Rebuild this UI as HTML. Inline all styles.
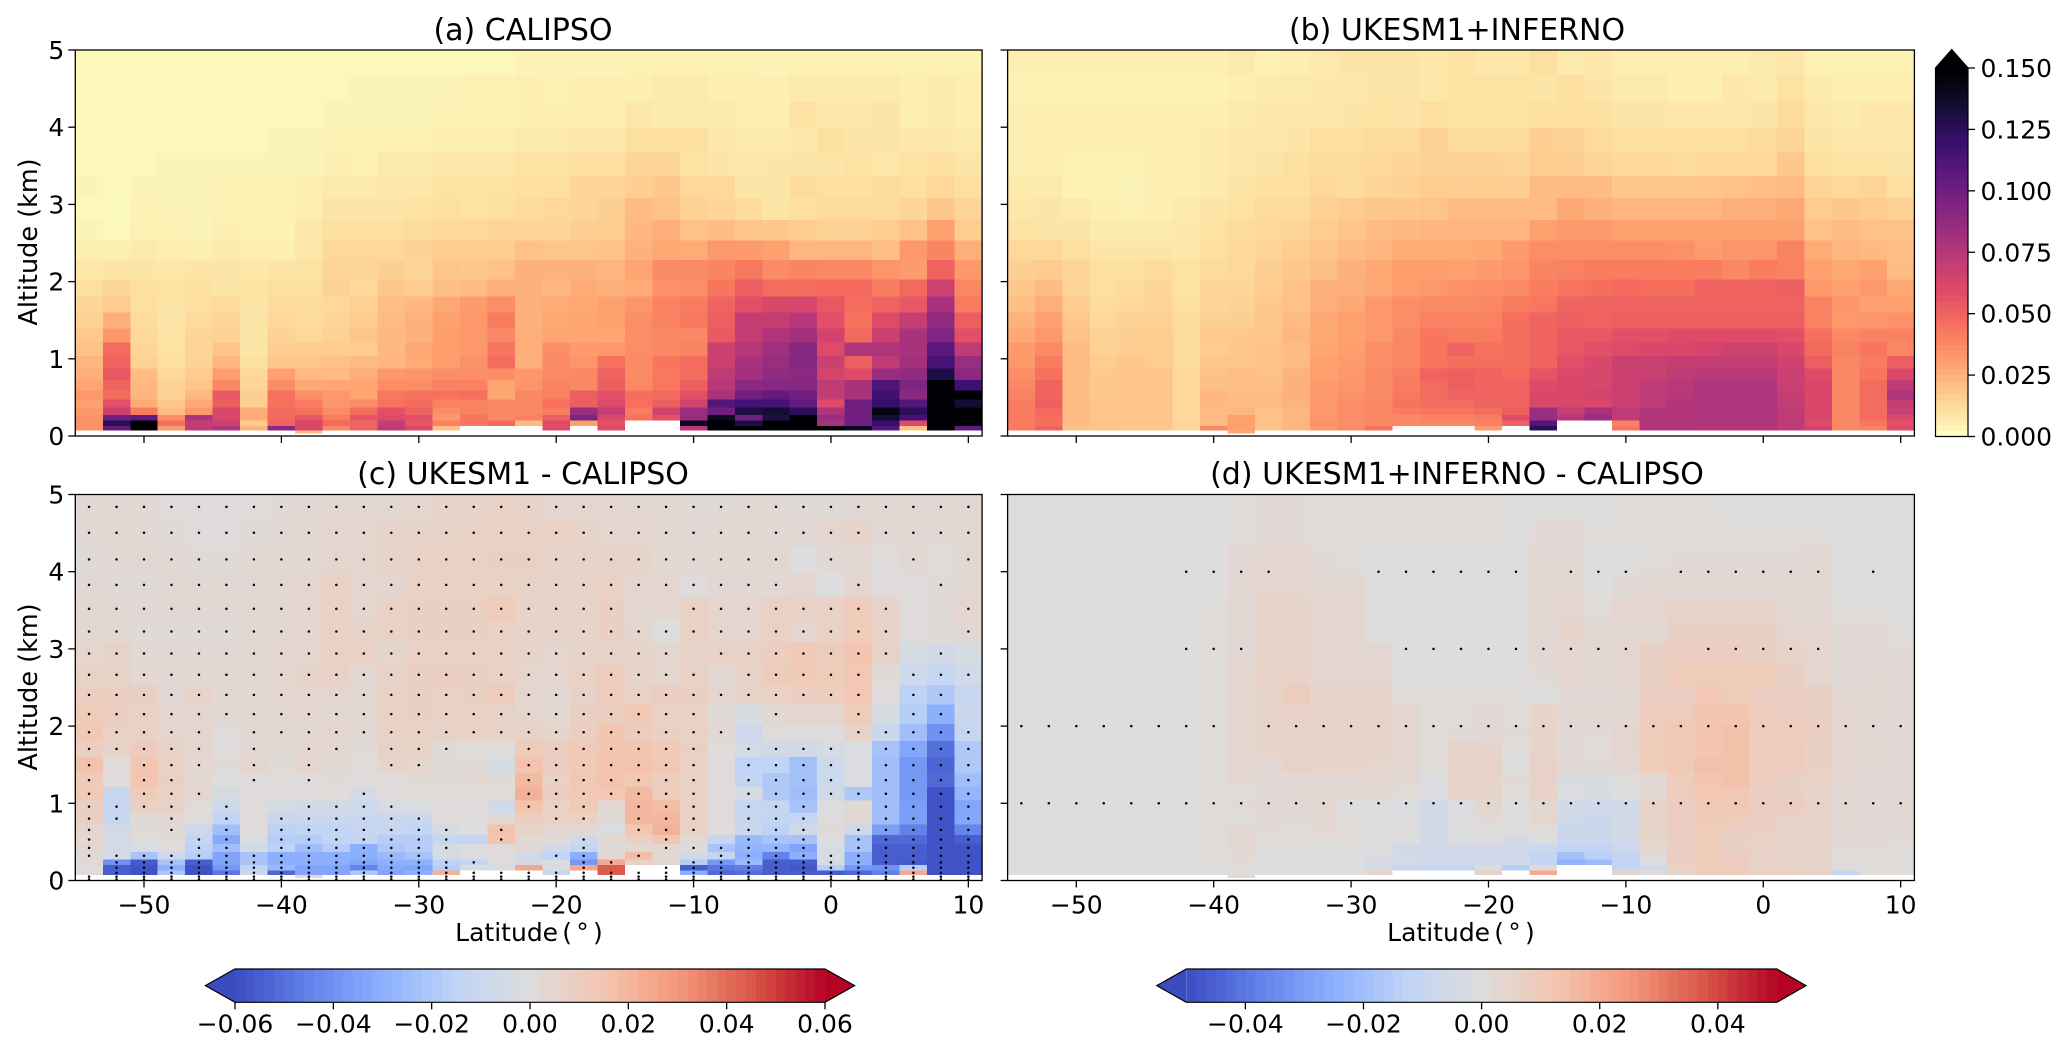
<!DOCTYPE html>
<html lang="en">
<head>
<meta charset="utf-8">
<title>CALIPSO and UKESM1 extinction by latitude and altitude</title>
<style>
html,body{margin:0;padding:0;background:#fff;width:2067px;height:1050px;overflow:hidden}
svg{display:block}
text{font-family:"DejaVu Sans","Liberation Sans",sans-serif;fill:#000}
.title{font-size:30px;text-anchor:middle}
.xlabel{font-size:25px;text-anchor:middle;word-spacing:-3.7px}
.ylabel{font-size:25.5px;text-anchor:middle}
.tick{font-size:25px}
</style>
</head>
<body>
<svg id="figure" xmlns="http://www.w3.org/2000/svg" width="2067" height="1050" viewBox="0 0 2067 1050">
  <g id="layer-marks"></g>
  <text class="title" x="523" y="40">(a) CALIPSO</text>
  <text class="title" x="1457" y="40">(b) UKESM1+INFERNO</text>
  <text class="title" x="523" y="484">(c) UKESM1 - CALIPSO</text>
  <text class="title" x="1457" y="484">(d) UKESM1+INFERNO - CALIPSO</text>
  <text class="ylabel" transform="translate(37,242) rotate(-90)">Altitude (km)</text>
  <text class="ylabel" transform="translate(37,687) rotate(-90)">Altitude (km)</text>
  <text class="xlabel" x="529" y="941">Latitude ( ° )</text>
  <text class="xlabel" x="1461" y="941">Latitude ( ° )</text>
</svg>
<script>
const _ = null;
/* Grid: latitude cell centres and altitude cell edges (km), bottom to top. */
const latitudes = [-54,-52,-50,-48,-46,-44,-42,-40,-38,-36,-34,-32,-30,-28,-26,-24,-22,-20,-18,-16,-14,-12,-10,-8,-6,-4,-2,0,2,4,6,8,10];
const altitudeEdges = [0,0.03,0.07,0.13,0.2,0.27,0.37,0.475,0.587,0.725,0.877,1.036,1.21,1.39,1.6,1.81,2.03,2.28,2.53,2.8,3.08,3.37,3.67,3.99,4.33,4.68,5];
const latTicks = [-50,-40,-30,-20,-10,0,10];
const altTicks = [0,1,2,3,4,5];
const cbarTicksMain = [0,0.025,0.05,0.075,0.1,0.125,0.15];
const cbarTicksC = [-0.06,-0.04,-0.02,0,0.02,0.04,0.06];
const cbarTicksD = [-0.04,-0.02,0,0.02,0.04];

/* Values in units of 0.001, rows listed from top altitude cell down to the lowest. */
const valuesA = [
[3,3,3,3,3,3,3,3,3,3,3, 3,3,3,3,3,4,4,4,4,5,5, 5,5,5,4,5,5,5,5,5,5,5],
[3,3,3,3,3,3,3,3,3,3,4, 4,4,4,5,5,6,5,6,6,6,7, 7,6,6,6,7,7,7,7,6,7,6],
[3,3,3,3,3,3,3,3,3,4,4, 4,4,5,5,5,6,6,6,6,8,7, 7,7,6,6,10,8,8,9,6,7,6],
[3,3,3,3,3,3,3,4,4,5,5, 5,5,6,6,6,7,7,8,8,11,11, 11,8,7,7,8,11,9,9,8,8,7],
[3,3,3,4,4,4,4,4,4,6,5, 7,7,8,8,8,10,10,11,11,14,14, 10,9,8,9,9,9,10,8,10,11,9],
[4,3,4,4,4,5,5,5,6,7,7, 8,8,10,10,10,11,11,14,14,16,18, 13,13,9,9,12,11,11,12,11,13,11],
[3,2,5,4,4,5,5,5,6,9,9, 9,10,11,10,11,12,13,14,16,22,20, 15,14,12,9,11,12,12,12,14,18,14],
[4,3,5,5,4,6,5,5,8,11,11, 11,12,13,13,14,14,14,16,17,23,26, 20,22,19,18,17,15,15,17,20,30,17],
[6,6,7,6,6,7,6,6,8,13,13, 13,15,17,17,17,20,19,19,20,25,28, 27,33,32,30,24,24,24,21,33,39,26],
[8,9,9,8,9,9,8,9,10,14,14, 16,14,19,18,20,25,25,25,24,29,37, 37,39,43,37,39,38,38,34,32,50,33],
[11,14,11,10,11,9,10,11,11,15,13, 18,17,21,22,26,25,23,27,25,27,35, 36,44,52,47,47,48,48,41,48,67,38],
[14,17,11,9,11,12,9,12,12,13,15, 21,23,28,32,36,25,27,28,30,34,40, 42,50,58,62,63,55,47,50,55,80,42],
[15,26,12,9,12,14,9,13,12,14,17, 22,25,30,33,42,25,28,29,30,36,40, 43,52,70,70,75,58,45,60,70,88,52],
[18,33,13,10,14,15,9,15,13,15,19, 23,25,31,33,38,26,29,29,29,36,38, 38,54,70,78,82,65,48,68,80,95,58],
[20,47,14,10,14,19,9,16,17,17,17, 23,28,31,33,44,26,36,32,33,36,38, 40,68,75,83,92,60,78,78,80,108,72],
[24,50,15,11,15,24,11,18,19,20,22, 24,27,31,35,47,25,37,34,45,37,44, 47,68,80,85,92,68,52,72,82,115,85],
[26,55,22,13,17,31,13,30,23,22,26, 33,34,36,36,36,33,37,38,50,37,43, 47,72,82,88,90,64,60,85,88,130,90],
[29,50,23,15,19,38,14,36,28,29,29, 36,36,40,40,29,34,40,38,52,38,44, 52,75,90,92,92,72,80,112,95,200,118],
[33,47,24,15,23,55,16,45,36,33,29, 43,45,45,46,28,38,40,52,58,46,48, 58,80,100,105,100,70,80,118,90,200,150],
[30,58,27,18,28,52,16,45,42,34,36, 45,47,40,40,38,38,46,52,60,46,52, 65,110,115,115,105,60,100,120,110,200,135],
[33,68,42,22,33,62,27,48,45,37,47, 58,50,36,40,38,38,42,85,70,42,65, 85,100,130,135,125,78,100,145,125,200,150],
[35,100,105,36,78,62,27,48,55,42,56, 60,58,33,44,38,40,52,95,62,45,58, 85,140,100,130,165,85,100,135,115,200,160],
[35,125,170,46,70,68,17,50,63,48,50, 70,55,40,44,48,22,60,30,58,_,_, 140,170,130,170,170,80,100,120,60,200,170],
[35,105,170,32,72,78,24,90,62,38,50, 72,62,20,_,_,_,60,_,60,_,_, 75,170,150,170,170,170,140,110,20,200,105],
[_,_,_,_,_,_,_,_,22,_,_, _,_,_,_,_,_,_,_,_,_,_, _,_,_,_,_,_,_,_,_,_,_]
];
const valuesB = [
[6,6,6,6,6,6,6,6,7,5,6, 7,9,9,9,8,10,8,8,11,7,8, 6,6,6,6,6,7,8,5,5,5,5],
[5,5,5,5,5,5,5,5,6,7,7, 8,8,9,9,8,10,10,10,9,11,9, 7,7,6,6,8,7,10,7,6,6,6],
[6,6,6,6,6,6,6,6,7,8,8, 8,9,10,9,11,10,10,10,11,11,11, 9,9,8,8,8,9,12,8,7,8,8],
[6,6,6,6,6,6,6,7,8,8,9, 11,11,12,12,15,12,12,12,16,15,12, 11,11,11,11,11,12,14,9,8,8,8],
[6,6,5,5,5,6,6,7,8,9,11, 12,12,13,14,15,15,15,14,17,16,14, 13,13,12,13,13,13,18,11,10,10,9],
[7,7,5,5,4,6,6,7,9,11,11, 13,12,14,15,17,16,17,16,22,22,22, 18,18,18,19,20,21,22,14,13,14,11],
[8,9,7,6,5,6,7,9,10,12,12, 15,17,18,18,19,22,22,22,22,28,25, 24,24,24,24,26,26,28,17,18,17,15],
[10,9,9,7,7,7,8,10,12,13,14, 17,19,22,23,24,24,24,24,30,32,32, 30,30,30,30,30,30,30,20,22,20,20],
[13,13,11,9,9,9,8,11,13,14,17, 19,22,24,27,27,27,28,32,36,36,36, 36,36,35,32,34,34,40,27,24,23,21],
[16,17,14,11,11,12,10,12,13,16,18, 21,25,28,31,31,30,32,34,39,40,42, 42,42,42,42,38,42,40,30,28,30,22],
[18,22,14,11,12,14,10,14,14,17,20, 25,26,28,31,33,35,36,37,41,44,46, 48,46,46,50,50,50,52,33,30,33,28],
[21,26,17,12,13,14,11,14,15,18,20, 26,28,33,36,37,37,38,42,44,50,50, 50,50,50,50,50,50,50,40,34,30,30],
[25,30,18,13,15,15,12,16,16,18,22, 28,30,33,36,40,40,40,46,50,52,50, 52,52,52,52,52,52,52,40,33,34,35],
[28,33,20,15,16,17,12,18,18,19,24, 28,30,33,38,44,42,42,46,50,55,55, 58,58,60,60,60,60,58,46,38,40,40],
[32,37,22,15,16,17,12,17,18,20,22, 29,31,36,38,44,50,45,46,50,55,58, 60,62,62,64,66,66,62,48,40,44,38],
[33,42,22,17,18,17,12,19,19,20,22, 30,32,36,38,44,46,46,46,50,58,62, 68,68,70,70,70,70,66,52,38,42,52],
[36,45,22,18,19,19,13,20,21,20,25, 30,33,37,41,50,52,50,48,56,62,63, 68,68,72,74,74,74,68,60,38,44,62],
[38,50,22,18,19,19,13,21,21,21,25, 32,34,37,42,47,52,50,50,60,62,63, 68,72,74,78,78,78,68,62,38,47,72],
[40,50,22,18,19,19,13,23,22,22,25, 32,35,37,43,47,50,50,50,62,62,65, 68,72,75,78,78,78,70,62,38,47,78],
[42,52,22,19,19,19,13,23,22,22,25, 33,36,38,45,47,47,50,50,62,62,62, 68,72,76,78,78,78,70,62,38,47,70],
[42,48,22,19,19,19,13,22,24,20,24, 33,36,38,42,44,44,46,52,85,70,80, 72,76,76,78,78,78,72,62,38,47,68],
[42,46,22,19,19,19,13,22,30,20,24, 33,36,38,38,40,40,42,60,85,75,85, 72,76,76,78,78,78,72,62,38,47,62],
[42,46,22,19,19,19,13,22,30,20,24, 35,36,38,38,38,38,40,50,110,_,_, 40,76,76,78,78,78,72,60,38,44,58],
[42,50,20,19,18,18,13,38,30,20,24, 33,37,45,_,_,_,32,_,125,_,_, 44,76,76,76,76,76,72,66,38,40,60],
[_,_,_,_,_,_,_,_,28,_,_, _,_,_,_,_,_,_,_,_,_,_, _,_,_,_,_,_,_,_,_,_,_]
];
const valuesC = [
[3,3,3,1,1,1,1,2,3,4,4, 4,5,6,6,8,6,5,5,5,4,4, 2,2,3,3,2,2,3,3,3,3,3],
[3,3,3,2,1,1,2,3,4,5,5, 6,6,7,8,8,8,8,6,5,5,4, 3,4,3,3,3,5,6,3,3,3,3],
[2,3,3,3,2,2,3,4,4,5,5, 6,8,8,8,9,9,6,6,7,6,4, 3,4,3,4,0,3,3,1,3,1,3],
[3,2,2,3,3,3,3,4,5,8,5, 5,8,8,8,8,7,7,6,8,5,5, 1,3,3,3,5,0,5,1,1,2,3],
[4,3,3,3,3,3,4,4,5,8,5, 8,9,9,9,12,6,6,6,9,4,4, 8,5,5,8,8,8,12,6,1,2,5],
[4,4,2,2,2,2,4,4,5,8,7, 8,9,9,9,8,6,6,6,9,5,0, 8,5,5,8,5,8,12,7,1,2,3],
[5,7,3,3,3,3,3,5,5,8,8, 5,8,8,8,8,6,5,6,7,6,5, 6,8,8,10,13,11,15,7,-4,-6,-3],
[7,7,4,3,3,3,4,5,6,8,4, 7,9,10,9,8,5,5,8,11,6,5, 8,4,7,12,13,12,14,2,-8,-12,-7],
[10,10,9,3,6,4,4,5,5,5,4, 8,9,8,9,11,5,4,7,11,8,10, 9,5,7,8,10,10,14,1,-16,-20,-12],
[12,10,8,5,5,3,4,4,5,4,4, 8,9,8,8,7,5,3,9,10,14,8, 8,2,-3,4,5,5,12,-3,-18,-30,-10],
[14,8,8,5,5,1,3,3,4,5,3, 8,8,7,8,7,8,6,10,15,11,9, 8,3,-8,1,1,1,7,-10,-24,-40,-12],
[9,7,11,7,5,1,3,3,5,4,2, 7,7,2,1,1,12,10,13,15,15,13, 9,1,-5,-6,-6,-4,-1,-22,-33,-50,-20],
[16,1,15,8,4,2,5,2,5,3,1, 6,5,2,2,-4,16,10,13,16,16,14, 8,1,-15,-15,-23,-9,-1,-24,-38,-53,-20],
[12,1,15,9,4,0,1,1,1,2,1, 1,2,2,3,2,19,8,14,16,14,10, 8,1,-13,-20,-23,-9,-1,-24,-38,-52,-24],
[13,-12,12,8,5,-4,1,1,1,1,-5, 1,1,1,1,1,22,10,13,14,19,12, 8,1,-4,-20,-24,-6,-20,-24,-38,-58,-28],
[9,-11,9,7,1,-8,1,-4,-6,-6,-9, -3,-2,1,1,-7,16,8,13,3,20,18, 8,1,-12,-12,-22,-1,3,-24,-36,-58,-34],
[9,-12,2,3,1,-15,1,-10,-10,-10,-11, -10,-10,1,1,3,10,8,8,2,20,20, 8,1,-12,-14,-12,1,3,-24,-36,-58,-33],
[5,-5,2,2,-8,-24,1,-16,-15,-14,-12, -12,-14,-4,0,16,7,3,3,-1,15,22, 8,1,-10,-16,-6,2,-8,-36,-45,-58,-44],
[4,-5,1,2,-12,-32,-2,-18,-18,-14,-14, -18,-18,-12,-14,16,3,2,-8,4,8,15, 3,-12,-26,-22,-22,-2,-22,-52,-52,-58,-55],
[5,-5,-3,1,-16,-24,-5,-16,-24,-18,-30, -20,-18,-4,-1,1,3,-6,-12,1,4,4, 1,-22,-28,-28,-34,-3,-22,-55,-55,-58,-58],
[2,-5,-22,-8,-18,-34,-22,-30,-30,-30,-30, -26,-22,-4,-1,1,-6,-15,-30,4,18,4, -5,-14,-30,-45,-30,-3,-30,-55,-55,-58,-58],
[2,-40,-56,-22,-55,-34,-22,-30,-30,-30,-34, -30,-30,-16,-13,1,-5,-2,-38,24,8,5, -18,-38,-26,-55,-55,-4,-30,-55,-56,-58,-58],
[1,-55,-58,-30,-58,-38,-15,-26,-34,-34,-44, -32,-34,-18,-3,-3,25,-2,25,44,_,_, -55,-48,-46,-55,-57,-18,-38,-40,-18,-58,-58],
[1,-55,-58,-20,-58,-48,-10,-52,-34,-34,-20, -34,-30,22,_,_,_,-10,_,44,_,_, -30,-52,-50,-55,-55,-55,-52,-45,24,-58,-58],
[_,_,_,_,_,_,_,_,1,_,_, _,_,_,_,_,_,_,_,_,_,_, _,_,_,_,_,_,_,_,_,_,_]
];
const valuesD = [
[0,0,0,0,0,0,0,0,1,2,2, 1,1,1,1,1,1,1,0,0,0,0, 1,1,1,1,0,0,0,0,0,0,0],
[0,0,0,0,0,0,0,0,1,2,2, 1,1,1,1,1,1,1,0,2,2,1, 1,1,1,1,1,1,1,1,0,0,0],
[0,0,0,0,0,0,0,0,3,4,4, 2,1,0,0,0,0,0,0,3,3,0, 0,1,2,2,2,2,2,3,0,0,0],
[0,0,0,0,0,0,0,0,3,4,4, 3,3,0,0,0,0,0,0,3,3,0, 2,3,3,3,3,3,3,3,0,0,0],
[0,0,0,0,0,0,0,1,3,5,5, 4,4,0,0,0,0,0,0,3,4,1, 4,4,5,5,5,5,3,3,1,1,0],
[0,0,0,0,0,0,0,1,3,5,5, 4,4,0,0,0,0,0,0,3,5,3, 3,3,7,7,7,7,4,4,2,2,1],
[0,0,0,0,0,0,0,1,3,5,5, 4,4,3,0,0,0,0,0,3,4,3, 4,7,8,8,8,7,5,4,2,2,2],
[0,0,0,0,0,0,0,1,4,6,6, 4,4,4,0,0,0,0,0,2,4,3, 4,7,10,10,10,10,7,4,2,3,2],
[0,0,0,0,0,0,0,1,4,5,9, 5,5,5,1,1,1,1,1,0,2,2, 3,8,8,12,10,8,8,7,3,3,2],
[0,0,0,0,0,0,0,1,4,5,6, 5,5,5,4,1,1,3,1,5,3,3, 3,9,9,13,13,9,8,7,4,3,2],
[0,0,0,0,0,0,0,1,4,5,5, 5,5,5,4,1,2,3,2,5,2,2, 4,10,11,13,14,9,9,8,4,3,2],
[0,0,0,0,0,0,0,1,4,5,5, 5,5,5,4,1,5,5,1,5,2,1, 4,10,11,13,14,9,9,7,4,3,2],
[0,0,0,0,0,0,0,1,4,3,6, 5,5,4,3,1,6,6,0,6,3,2, 3,10,11,14,14,9,9,7,4,3,2],
[0,0,0,0,0,0,0,1,3,2,3, 3,3,4,3,-1,5,5,2,6,-2,-2, 1,3,9,13,14,9,7,6,3,2,2],
[0,0,0,0,0,0,0,1,1,2,3, 3,3,3,1,-1,5,5,1,6,-1,-2, 0,3,9,12,11,8,7,5,3,2,2],
[0,0,0,0,0,0,0,1,2,3,3, 3,0,0,-1,-5,-1,4,0,3,-5,-6, -5,6,8,12,11,8,8,6,3,2,3],
[0,0,0,0,0,0,0,1,1,2,2, 3,1,0,0,-5,-1,2,0,4,-6,-8, -5,5,8,11,10,8,6,6,3,2,2],
[0,0,0,0,0,0,0,1,3,2,1, 3,1,0,0,-5,0,0,0,1,-8,-8, -5,5,8,10,8,7,5,5,3,2,2],
[0,0,0,0,0,0,0,1,3,1,1, 1,1,0,0,-5,-1,0,-4,0,-8,-8, -5,5,8,10,7,6,5,5,3,2,2],
[0,0,0,0,0,0,0,1,3,0,0, 0,0,0,-5,-5,-4,-4,-5,-8,-11,-11, -8,3,8,10,7,6,5,5,2,2,1],
[0,0,0,0,0,0,0,1,2,0,0, 0,0,-1,-4,-7,-7,-7,-7,-11,-19,-14, -11,2,8,10,8,6,5,5,1,1,1],
[0,0,0,0,0,0,0,1,2,0,0, 0,0,-3,-4,-6,-6,-6,-6,-11,-24,-21, -12,-1,8,10,9,6,5,5,1,1,1],
[0,0,0,0,0,0,0,0,2,0,0, 0,0,-3,-10,-12,-11,-2,-15,2,_,_, -11,-6,6,10,9,5,5,4,1,1,1],
[0,0,0,0,0,0,0,0,0,0,0, 0,0,5,_,_,_,6,_,20,_,_, 5,2,5,10,9,8,8,8,-10,1,1],
[_,_,_,_,_,_,_,_,2,_,_, _,_,_,_,_,_,_,_,_,_,_, _,_,_,_,_,_,_,_,_,_,_]
];

/* Significance stippling: '.' marks a latitude column; rows run from top altitude level down. */
const stippleC = [
".................................",
".................................",
".......................... .  . .",
"..........................  .  . ",
"....................  ........  .",
"..............................  .",
"...................... ....... . ",
"....................... ..... ...",
"............................. .. ",
".......................  .  . .. ",
"..... ..................    .....",
"..... . .. ...  ....... .... ....",
". ... . .  ..   ....... .... ....",
". ..  . .       ....... .... ....",
". ...     .     ....... .........",
".... .  ....    ... ... ...  ....",
".. . . ......    .. ... ...  ....",
".  . . ....... .    ... ... .....",
".   .. ....... .  .  .  ... .....",
".   .. .......    .  ...... .....",
".............    .. .  ..........",
" ..............   ..  ...........",
" .............    .  ............",
" ................................",
".................................",
"................................."
];
const stippleAltitudesD = [4,3,2,1];
const stippleD = [
"      ....   ...... ... ...... . ",
"      ...     .........  .....   ",
"........ ........................",
"................................."
];

const magmaStops = [[252,253,191],[254,207,146],[254,159,109],[247,112,92],[222,73,104],[183,55,121],[140,41,129],[100,26,128],[59,15,112],[20,14,54],[0,0,4]];
const coolwarmStops = [[59,76,192],[98,130,234],[141,176,254],[192,212,245],[221,221,221],[243,198,177],[244,152,122],[217,88,71],[180,4,38]];
const colorbarBands = 60;

function sampleStops(stops, t){
  const c = Math.max(0, Math.min(1, t)) * (stops.length - 1);
  const i = Math.min(Math.floor(c), stops.length - 2);
  const f = c - i;
  const a = stops[i], b = stops[i + 1];
  return 'rgb(' + Math.round(a[0] + (b[0] - a[0]) * f) + ',' + Math.round(a[1] + (b[1] - a[1]) * f) + ',' + Math.round(a[2] + (b[2] - a[2]) * f) + ')';
}
/* Half-bin offset at the pale end of the sequential scale. */
const magmaColor = v => sampleStops(magmaStops, (v - 1.25) / 147.5);
const divergingColor = vmax => v => sampleStops(coolwarmStops, 0.5 + v / (2 * vmax));

const SVGNS = 'http://www.w3.org/2000/svg';
const root = document.getElementById('layer-marks');
function add(parent, tag, attrs, text){
  const el = document.createElementNS(SVGNS, tag);
  for (const k in attrs) el.setAttribute(k, attrs[k]);
  if (text !== undefined) el.textContent = text;
  parent.appendChild(el);
  return el;
}
function formatTick(v, digits){
  const s = Math.abs(v).toFixed(digits);
  return v < 0 ? '\u2212' + s : s;
}

const panelW = 906.8, panelH = 386;
function drawPanel(key, left, top, values, colorFn, showY, showX){
  const g = add(root, 'g', {});
  
  
  const xScale = lat => left + (lat + 55) / 66 * panelW;
  const yScale = km => top + panelH - km / 5 * panelH;
  const rows = altitudeEdges.length - 1;
  const cells = add(g, 'g', {'shape-rendering': 'crispEdges'});
  
  
  values.forEach((row, ri) => {
    const level = rows - 1 - ri;
    const y0 = yScale(altitudeEdges[level + 1]);
    const y1 = yScale(altitudeEdges[level]);
    row.forEach((v, ci) => {
      if (v === null || v === undefined) return;
      const x0 = xScale(latitudes[ci] - 1);
      const x1 = xScale(latitudes[ci] + 1);
      const r = add(cells, 'rect', {x: x0, y: y0, width: x1 - x0, height: y1 - y0, fill: colorFn(v)});
      
      
    });
  });
  const axes = {x: xScale, y: yScale};
  const frame = add(g, 'rect', {x: left, y: top, width: panelW, height: panelH, fill: 'none', stroke: '#000', 'stroke-width': 1.3});
  
  
  latTicks.forEach(t => {
    const x = xScale(t);
    const tk = add(g, 'line', {x1: x, x2: x, y1: top + panelH, y2: top + panelH + 7, stroke: '#000', 'stroke-width': 1.3});
    
    
    if (showX) {
      const lb = add(g, 'text', {class: 'tick', x: x, y: top + panelH + 33, 'text-anchor': 'middle'}, formatTick(t, 0));
      
      
    }
  });
  altTicks.forEach(t => {
    const y = yScale(t);
    const tk = add(g, 'line', {x1: left - 7, x2: left, y1: y, y2: y, stroke: '#000', 'stroke-width': 1.3});
    
    
    if (showY) {
      const lb = add(g, 'text', {class: 'tick', x: left - 11, y: y + 9, 'text-anchor': 'end'}, String(t));
      
      
    }
  });
  return axes;
}

function drawStipple(key, axes, strings, altitudeOf){
  const g = add(root, 'g', {});
  
  
  strings.forEach((s, ri) => {
    latitudes.forEach((lat, ci) => {
      if (s.charAt(ci) !== '.') return;
      const d = add(g, 'circle', {cx: axes.x(lat), cy: axes.y(altitudeOf(ri)), r: 1.25, fill: '#000'});
      
      
    });
  });
}

function drawHorizontalBar(key, x0, x1, tipL, tipR, y0, y1, vmax, ticks, colorFn){
  const g = add(root, 'g', {});
  
  
  const scale = v => x0 + (v + vmax) / (2 * vmax) * (x1 - x0);
  const ym = (y0 + y1) / 2;
  const left = add(g, 'polygon', {points: x0 + ',' + y0 + ' ' + tipL + ',' + ym + ' ' + x0 + ',' + y1, fill: colorFn(-vmax)});
  
  
  const right = add(g, 'polygon', {points: x1 + ',' + y0 + ' ' + tipR + ',' + ym + ' ' + x1 + ',' + y1, fill: colorFn(vmax)});
  
  
  const n = colorbarBands;
  const bands = add(g, 'g', {'shape-rendering': 'crispEdges'});
  for (let i = 0; i < n; i++) {
    const a = -vmax + 2 * vmax * i / n;
    const b = -vmax + 2 * vmax * (i + 1) / n;
    const r = add(bands, 'rect', {x: scale(a), y: y0, width: scale(b) - scale(a) + 0.6, height: y1 - y0, fill: colorFn((a + b) / 2)});
    
    
  }
  const outline = add(g, 'polygon', {points: x0 + ',' + y0 + ' ' + x1 + ',' + y0 + ' ' + tipR + ',' + ym + ' ' + x1 + ',' + y1 + ' ' + x0 + ',' + y1 + ' ' + tipL + ',' + ym, fill: 'none', stroke: '#000', 'stroke-width': 1.2});
  
  
  ticks.forEach(t => {
    const x = scale(t * 1000);
    const tk = add(g, 'line', {x1: x, x2: x, y1: y1, y2: y1 + 7, stroke: '#000', 'stroke-width': 1.3});
    
    
    const lb = add(g, 'text', {class: 'tick', x: x, y: y1 + 30, 'text-anchor': 'middle'}, formatTick(t, 2));
    
    
  });
}

function drawVerticalBar(x0, x1, yTop, yBottom, tipY, ticks){
  const g = add(root, 'g', {});
  
  
  const scale = v => yBottom - v / 150 * (yBottom - yTop);
  const n = colorbarBands;
  const bands = add(g, 'g', {'shape-rendering': 'crispEdges'});
  for (let i = 0; i < n; i++) {
    const a = 150 * i / n;
    const b = 150 * (i + 1) / n;
    const r = add(bands, 'rect', {x: x0, y: scale(b), width: x1 - x0, height: scale(a) - scale(b) + 0.6, fill: magmaColor((a + b) / 2)});
    
    
  }
  const xm = (x0 + x1) / 2;
  const arrow = add(g, 'polygon', {points: x0 + ',' + yTop + ' ' + xm + ',' + tipY + ' ' + x1 + ',' + yTop, fill: magmaColor(150)});
  
  
  const outline = add(g, 'polygon', {points: x0 + ',' + yBottom + ' ' + x0 + ',' + yTop + ' ' + xm + ',' + tipY + ' ' + x1 + ',' + yTop + ' ' + x1 + ',' + yBottom, fill: 'none', stroke: '#000', 'stroke-width': 1.2});
  
  
  ticks.forEach(t => {
    const y = scale(t * 1000);
    const tk = add(g, 'line', {x1: x1, x2: x1 + 7, y1: y, y2: y, stroke: '#000', 'stroke-width': 1.3});
    
    
    const lb = add(g, 'text', {class: 'tick', x: x1 + 12.5, y: y + 9, 'text-anchor': 'start'}, t.toFixed(3));
    
    
  });
}

const levelCentre = ri => {
  const level = altitudeEdges.length - 2 - ri;
  return (altitudeEdges[level] + altitudeEdges[level + 1]) / 2;
};

drawPanel('a', 75.3, 50, valuesA, magmaColor, true, false);
drawPanel('b', 1007.6, 50, valuesB, magmaColor, false, false);
const axesC = drawPanel('c', 75.3, 494.5, valuesC, divergingColor(60), true, true);
const axesD = drawPanel('d', 1007.6, 494.5, valuesD, divergingColor(50), false, true);
drawStipple('c', axesC, stippleC, levelCentre);
drawStipple('d', axesD, stippleD, ri => stippleAltitudesD[ri]);
drawVerticalBar(1935.5, 1968, 68, 436.5, 49.5, cbarTicksMain);
drawHorizontalBar('c', 235, 825, 205.4, 854.6, 969, 1002.3, 60, cbarTicksC, divergingColor(60));
drawHorizontalBar('d', 1186.3, 1776.9, 1156.8, 1806, 969, 1002.3, 50, cbarTicksD, divergingColor(50));
</script>
</body>
</html>
